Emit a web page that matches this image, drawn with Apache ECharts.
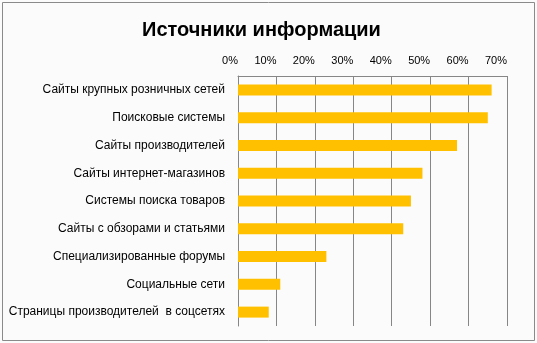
<!DOCTYPE html>
<html>
<head>
<meta charset="utf-8">
<script src="https://cdn.jsdelivr.net/npm/echarts@6/dist/echarts.min.js"></script>
<style>
html,body{margin:0;padding:0;background:#fbfbfb;}
#c{width:537px;height:343px;}
</style>
</head>
<body>
<div id="c"></div>
<script>
var titleText = 'Источники информации';
var categories = [
  'Сайты крупных розничных сетей',
  'Поисковые системы',
  'Сайты производителей',
  'Сайты интернет-магазинов',
  'Системы поиска товаров',
  'Сайты с обзорами и статьями',
  'Специализированные форумы',
  'Социальные сети',
  'Страницы производителей  в соцсетях'
];
var values = [66, 65, 57, 48, 45, 43, 23, 11, 8];
var axisMin = 0, axisMax = 70, axisStep = 10;

var chart = echarts.init(document.getElementById('c'), null, {renderer: 'canvas'});
var font = '"Liberation Sans", Arial, sans-serif';
chart.setOption({
  backgroundColor: '#fbfbfb',
  animation: false,
  title: {
    text: titleText,
    left: 137,
    top: 15,
    textStyle: {fontFamily: font, fontSize: 20, fontWeight: 'bold', color: '#000'}
  },
  graphic: [{
    type: 'rect',
    shape: {x: 2.5, y: 2.5, width: 532, height: 338},
    style: {fill: 'none', stroke: '#8a8a8a', lineWidth: 1},
    silent: true
  }],
  grid: {left: 238, right: 30, top: 76, bottom: 17, containLabel: false},
  xAxis: {
    type: 'value',
    position: 'top',
    min: axisMin, max: axisMax, interval: axisStep,
    axisLine: {show: true, lineStyle: {color: '#868686', width: 1}},
    axisTick: {show: false},
    splitLine: {show: true, lineStyle: {color: '#868686', width: 1}},
    axisLabel: {
      formatter: '{value}%',
      margin: 10,
      align: 'right',
      color: '#000',
      fontFamily: font,
      fontSize: 11
    }
  },
  yAxis: {
    type: 'category',
    inverse: true,
    data: categories,
    axisLine: {show: true, lineStyle: {color: '#868686', width: 1}},
    axisTick: {show: false},
    axisLabel: {margin: 13, color: '#000', fontFamily: font, fontSize: 12}
  },
  series: [{
    type: 'bar',
    data: values,
    barWidth: 11,
    itemStyle: {color: '#FFC000'}
  }]
});
</script>
</body>
</html>
